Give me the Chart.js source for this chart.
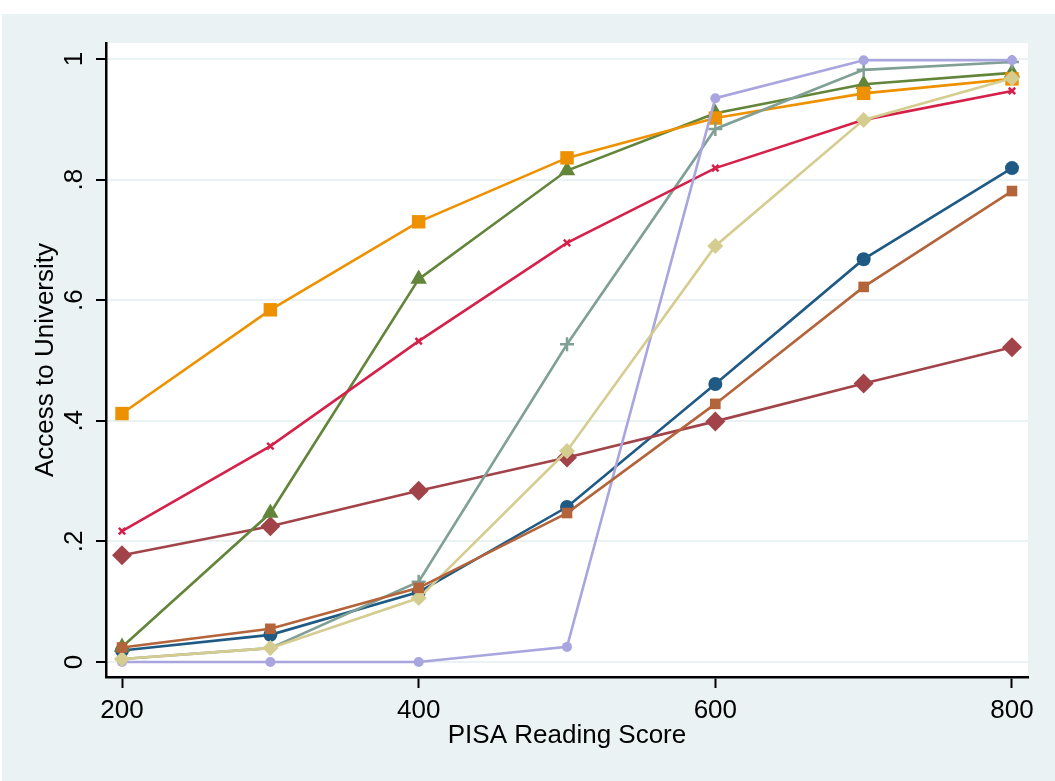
<!DOCTYPE html>
<html>
<head>
<meta charset="utf-8">
<script src="https://cdn.jsdelivr.net/npm/chart.js@4"></script>
<style>
  body { margin: 0; background: #fff; }
  #wrap { width: 1055px; height: 781px; }
</style>
</head>
<body>
<div id="wrap"><canvas id="chart" width="1055" height="781"></canvas></div>
<script>
// x positions (PISA reading score)
var scores = [200, 300, 400, 500, 600, 700, 800];
var xTicks = [200, 400, 600, 800];
var yTicks = [0, 0.2, 0.4, 0.6, 0.8, 1];
var yTickLabels = ['0', '.2', '.4', '.6', '.8', '1'];

// series values
var s1 = [0.019, 0.045, 0.116, 0.257, 0.461, 0.668, 0.819];
var s2 = [0.177, 0.225, 0.284, 0.339, 0.399, 0.462, 0.522];
var s3 = [0.025, 0.247, 0.635, 0.815, 0.910, 0.958, 0.977];
var s4 = [0.412, 0.584, 0.730, 0.836, 0.902, 0.943, 0.967];
var s5 = [0.005, 0.023, 0.133, 0.527, 0.884, 0.982, 0.995];
var s6 = [0.217, 0.358, 0.532, 0.695, 0.819, 0.899, 0.947];
var s7 = [0.0, 0.0, 0.0, 0.025, 0.935, 0.998, 0.998];
var s8 = [0.005, 0.023, 0.106, 0.350, 0.690, 0.899, 0.968];
var s9 = [0.024, 0.055, 0.123, 0.247, 0.428, 0.622, 0.781];

var seriesList = [s1, s2, s3, s4, s5, s6, s7, s8, s9];
var colors = ['#1f5a85', '#a2434a', '#63853a', '#ee9100', '#80a096', '#d5204a', '#a9a5de', '#d5cc90', '#b3643a'];
var shapes = ['circle', 'rectRot', 'triangle', 'rect', 'cross', 'crossRot', 'circle', 'rectRot', 'rect'];
var sizes = [7, 10, 9.5, 9.5, 7, 4.5, 5, 8, 7.5];

var FONT = '"Liberation Sans", Arial, sans-serif';

var datasets = seriesList.map(function(vals, i) {
  return {
    data: scores.map(function(x, j) { return {x: x, y: vals[j]}; }),
    borderColor: colors[i],
    backgroundColor: colors[i],
    pointBackgroundColor: colors[i],
    pointBorderColor: colors[i],
    pointStyle: shapes[i],
    pointRadius: sizes[i],
    pointBorderWidth: (shapes[i] == 'cross' || shapes[i] == 'crossRot') ? 2.5 : 0,
    borderWidth: 2.6,
    tension: 0,
    order: 20 - i
  };
});

var bgPlugin = {
  id: 'bg',
  beforeDraw: function(chart) {
    var ctx = chart.ctx, a = chart.chartArea;
    ctx.save();
    ctx.fillStyle = '#ffffff';
    ctx.fillRect(0, 0, chart.width, chart.height);
    ctx.fillStyle = '#eaf2f3';
    ctx.fillRect(2, 14, chart.width - 2, chart.height - 14);
    ctx.fillStyle = '#ffffff';
    ctx.fillRect(a.left, a.top, a.right - a.left, a.bottom - a.top);
    ctx.restore();
  },
  afterDraw: function(chart) {
    var ctx = chart.ctx, a = chart.chartArea;
    var xs = chart.scales.x, ys = chart.scales.y;
    ctx.save();
    ctx.fillStyle = '#000';
    ctx.font = '26px ' + FONT;
    ctx.textAlign = 'center';
    ctx.textBaseline = 'alphabetic';
    xTicks.forEach(function(v) {
      ctx.fillText(String(v), xs.getPixelForValue(v), 718);
    });
    ctx.fillText('PISA Reading Score', (a.left + a.right) / 2, 743);
    yTicks.forEach(function(v, i) {
      ctx.save();
      ctx.translate(82, ys.getPixelForValue(v));
      ctx.rotate(-Math.PI / 2);
      ctx.fillText(yTickLabels[i], 0, 0);
      ctx.restore();
    });
    ctx.save();
    ctx.translate(53, (a.top + a.bottom) / 2);
    ctx.rotate(-Math.PI / 2);
    ctx.fillText('Access to University', 0, 0);
    ctx.restore();
    ctx.restore();
  }
};

new Chart(document.getElementById('chart').getContext('2d'), {
  type: 'line',
  data: { datasets: datasets },
  plugins: [bgPlugin],
  options: {
    responsive: false,
    animation: false,
    devicePixelRatio: 1,
    layout: { padding: { top: 43, right: 27, left: 0, bottom: 0 } },
    plugins: { legend: { display: false }, tooltip: { enabled: false } },
    scales: {
      x: {
        type: 'linear',
        min: 189.2,
        max: 810.8,
        afterBuildTicks: function(scale) { scale.ticks = xTicks.map(function(v) { return {value: v}; }); },
        afterFit: function(scale) { scale.height = 104; },
        ticks: { display: false },
        grid: { drawOnChartArea: false, color: 'rgba(0,0,0,0)', tickColor: '#000', tickLength: 11, tickWidth: 2 },
        border: { color: '#000', width: 2.5 }
      },
      y: {
        type: 'linear',
        min: -0.0249,
        max: 1.0265,
        afterBuildTicks: function(scale) { scale.ticks = yTicks.map(function(v) { return {value: v}; }); },
        afterFit: function(scale) { scale.width = 106; },
        ticks: { display: false },
        grid: { color: '#eaf2f3', lineWidth: 2, tickColor: '#000', tickLength: 10, tickWidth: 2 },
        border: { color: '#000', width: 2.5 }
      }
    }
  }
});
</script>
</body>
</html>
